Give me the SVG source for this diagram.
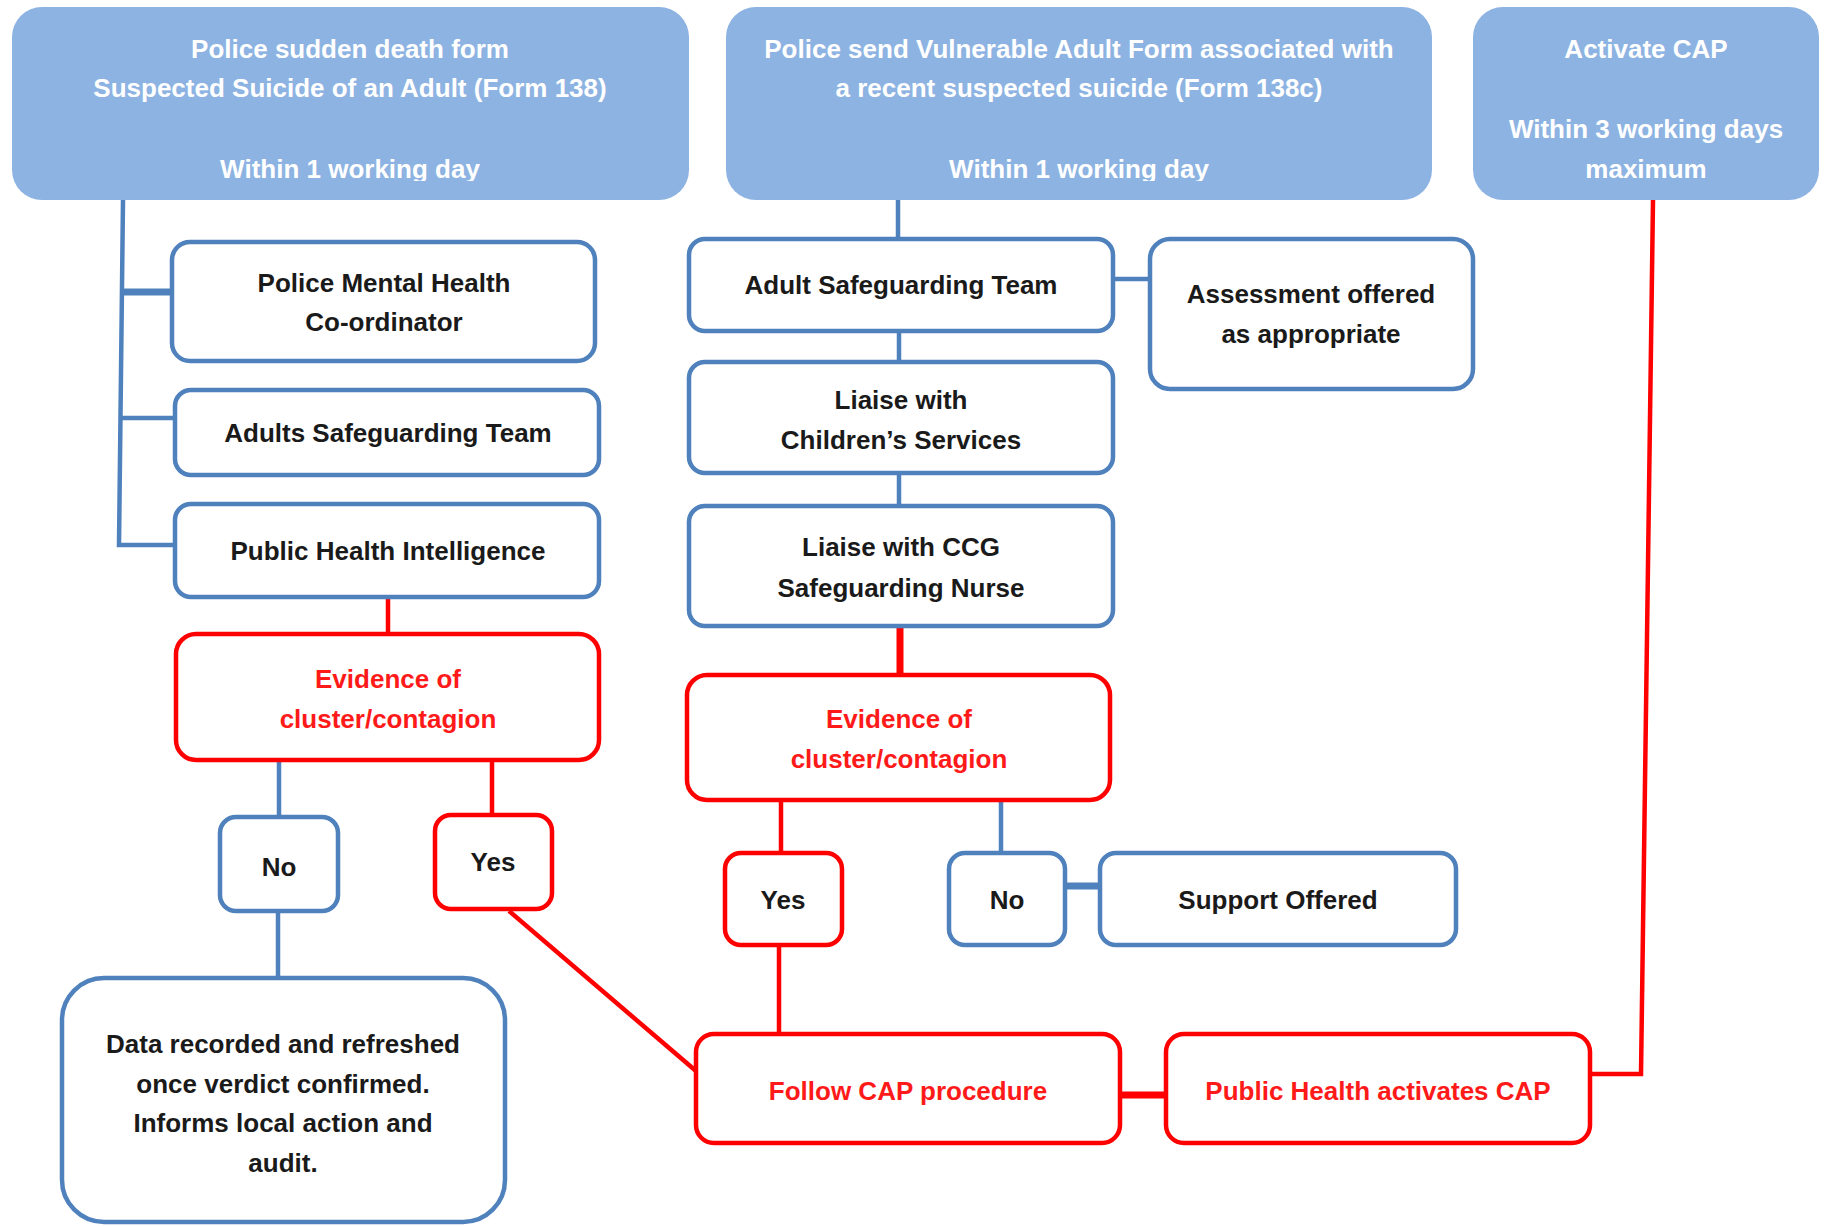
<svg xmlns="http://www.w3.org/2000/svg" width="1825" height="1226" viewBox="0 0 1825 1226">
<style>
.top{fill:#8DB3E2;stroke:none}
.bn{fill:#fff;stroke:#4F81BD;stroke-width:4.5}
.rn{fill:#fff;stroke:#FF0000;stroke-width:4.5}
text{font-family:"Liberation Sans",Arial,sans-serif;font-weight:bold;font-size:26px;text-anchor:middle}
.w{fill:#fff}
.k{fill:#1a1a1a}
.r{fill:#FF1A1A}
.bl{stroke:#4F81BD;stroke-width:4.5;fill:none}
.blt{stroke:#4F81BD;stroke-width:7;fill:none}
.rl{stroke:#FF0000;stroke-width:4.5;fill:none}
.rlt{stroke:#FF0000;stroke-width:7;fill:none}
</style>
<defs>
<clipPath id="clipTop"><rect x="0" y="0" width="1825" height="181"/></clipPath>
</defs>
<rect width="1825" height="1226" fill="#fff"/>
<g id="connectors">
<path class="bl" d="M123 200 L119 545 L176 545"/>
<path class="blt" d="M122 292 L172 292"/>
<path class="bl" d="M121 418 L176 418"/>
<path class="rl" d="M388 597 L388 634"/>
<path class="bl" d="M279 760 L279 817"/>
<path class="rl" d="M492 760 L492 815"/>
<path class="bl" d="M278 911 L278 978"/>
<path class="rl" d="M509 911 L696 1071"/>
<path class="rlt" d="M1120 1095 L1166 1095"/>
<path class="rl" d="M1590 1074 L1641 1074 L1653 200"/>
<path class="bl" d="M898 200 L898 239"/>
<path class="bl" d="M1113 279 L1150 279"/>
<path class="bl" d="M899 331 L899 362"/>
<path class="bl" d="M899 473 L899 506"/>
<path class="rlt" d="M900 626 L900 675"/>
<path class="rl" d="M781 800 L781 853"/>
<path class="bl" d="M1001 800 L1001 853"/>
<path class="blt" d="M1065 886 L1100 886"/>
<path class="rl" d="M779 945 L779 1034"/>
</g>
<g id="top1">
<rect class="top" x="12" y="7" width="677" height="193" rx="30"/>
<g clip-path="url(#clipTop)">
<text class="w" x="350" y="58">Police sudden death form</text>
<text class="w" x="350" y="97">Suspected Suicide of an Adult (Form 138)</text>
<text class="w" x="350" y="178">Within 1 working day</text>
</g>
</g>
<g id="top2">
<rect class="top" x="726" y="7" width="706" height="193" rx="30"/>
<g clip-path="url(#clipTop)">
<text class="w" x="1079" y="58">Police send Vulnerable Adult Form associated with</text>
<text class="w" x="1079" y="97">a recent suspected suicide (Form 138c)</text>
<text class="w" x="1079" y="178">Within 1 working day</text>
</g>
</g>
<g id="top3">
<rect class="top" x="1473" y="7" width="346" height="193" rx="30"/>
<text class="w" x="1646" y="58">Activate CAP</text>
<text class="w" x="1646" y="138">Within 3 working days</text>
<text class="w" x="1646" y="178">maximum</text>
</g>
<g id="pmhc">
<rect class="bn" x="172" y="242" width="423" height="119" rx="18"/>
<text class="k" x="384" y="292">Police Mental Health</text>
<text class="k" x="384" y="331">Co-ordinator</text>
</g>
<g id="ast">
<rect class="bn" x="175" y="390" width="424" height="85" rx="16"/>
<text class="k" x="388" y="442">Adults Safeguarding Team</text>
</g>
<g id="phi">
<rect class="bn" x="175" y="504" width="424" height="93" rx="16"/>
<text class="k" x="388" y="560">Public Health Intelligence</text>
</g>
<g id="ev1">
<rect class="rn" x="176" y="634" width="423" height="126" rx="20"/>
<text class="r" x="388" y="688">Evidence of</text>
<text class="r" x="388" y="728">cluster/contagion</text>
</g>
<g id="no1">
<rect class="bn" x="220" y="817" width="118" height="94" rx="16"/>
<text class="k" x="279" y="876">No</text>
</g>
<g id="yes1">
<rect class="rn" x="435" y="815" width="117" height="94" rx="16"/>
<text class="k" x="493" y="871">Yes</text>
</g>
<g id="data">
<rect class="bn" x="62" y="978" width="443" height="244" rx="42"/>
<text class="k" x="283" y="1053">Data recorded and refreshed</text>
<text class="k" x="283" y="1093">once verdict confirmed.</text>
<text class="k" x="283" y="1132">Informs local action and</text>
<text class="k" x="283" y="1172">audit.</text>
</g>
<g id="ast2">
<rect class="bn" x="689" y="239" width="424" height="92" rx="16"/>
<text class="k" x="901" y="294">Adult Safeguarding Team</text>
</g>
<g id="assess">
<rect class="bn" x="1150" y="239" width="323" height="150" rx="20"/>
<text class="k" x="1311" y="303">Assessment offered</text>
<text class="k" x="1311" y="343">as appropriate</text>
</g>
<g id="children">
<rect class="bn" x="689" y="362" width="424" height="111" rx="16"/>
<text class="k" x="901" y="409">Liaise with</text>
<text class="k" x="901" y="449">Children’s Services</text>
</g>
<g id="ccg">
<rect class="bn" x="689" y="506" width="424" height="120" rx="16"/>
<text class="k" x="901" y="556">Liaise with CCG</text>
<text class="k" x="901" y="597">Safeguarding Nurse</text>
</g>
<g id="ev2">
<rect class="rn" x="687" y="675" width="423" height="125" rx="20"/>
<text class="r" x="899" y="728">Evidence of</text>
<text class="r" x="899" y="768">cluster/contagion</text>
</g>
<g id="yes2">
<rect class="rn" x="725" y="853" width="117" height="92" rx="16"/>
<text class="k" x="783" y="909">Yes</text>
</g>
<g id="no2">
<rect class="bn" x="949" y="853" width="116" height="92" rx="16"/>
<text class="k" x="1007" y="909">No</text>
</g>
<g id="support">
<rect class="bn" x="1100" y="853" width="356" height="92" rx="16"/>
<text class="k" x="1278" y="909">Support Offered</text>
</g>
<g id="follow">
<rect class="rn" x="696" y="1034" width="424" height="109" rx="18"/>
<text class="r" x="908" y="1100">Follow CAP procedure</text>
</g>
<g id="phcap">
<rect class="rn" x="1166" y="1034" width="424" height="109" rx="18"/>
<text class="r" x="1378" y="1100">Public Health activates CAP</text>
</g>
</svg>
